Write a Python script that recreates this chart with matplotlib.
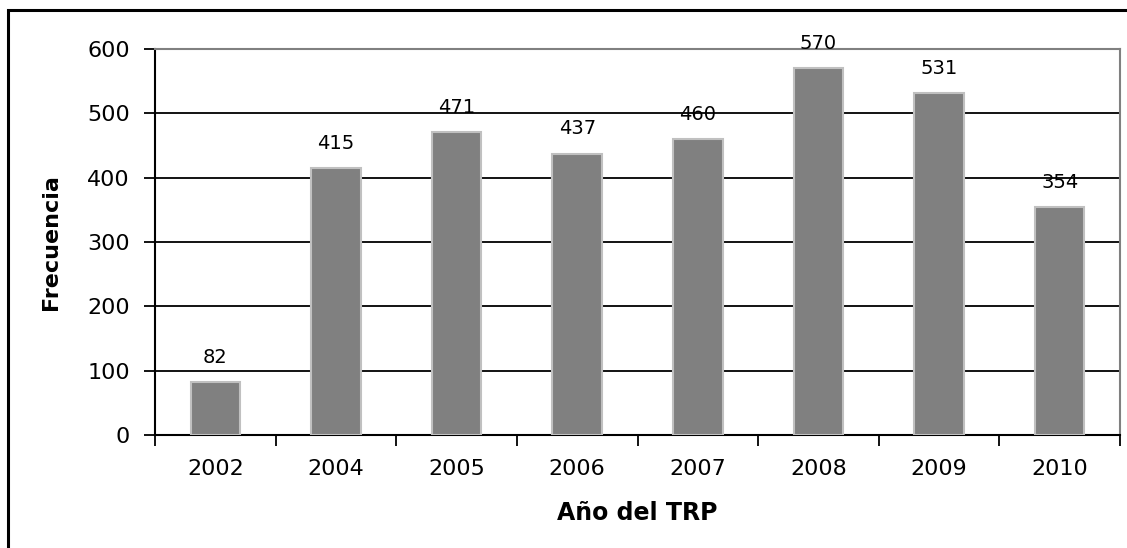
import matplotlib
matplotlib.use("Agg")
from matplotlib import pyplot as plt
from matplotlib.patches import Rectangle

years = ["2002", "2004", "2005", "2006", "2007", "2008", "2009", "2010"]
counts = [82, 415, 471, 437, 460, 570, 531, 354]
yticks = [0, 100, 200, 300, 400, 500, 600]

plt.rcParams['font.family'] = ['DejaVu Sans']

fig = plt.figure(figsize=(11.27, 5.48), dpi=100)
W, H = 1127, 548
ax = fig.add_axes([155 / W, 1 - 435 / H, (1120 - 155) / W, (435 - 49) / H])

x = list(range(len(years)))
ax.bar(x, counts, width=0.41, color="#808080", edgecolor="#c0c0c0",
       linewidth=1.5, zorder=3)
for xi, v in zip(x, counts):
    ax.annotate(str(v), (xi, v), xytext=(0, 14), textcoords="offset points",
                ha="center", va="baseline", fontsize=14, zorder=4)

ax.set_xlim(-0.5, len(years) - 0.5)
ax.set_ylim(0, 600)
ax.set_yticks(yticks)
ax.tick_params(axis="y", labelsize=16, length=8, width=1.3, direction="out", pad=10)
# x ticks sit at category boundaries, labels at centres
ax.set_xticks([i - 0.5 for i in range(len(years) + 1)])
ax.set_xticklabels([])
ax.set_xticks(x, minor=True)
ax.set_xticklabels(years, minor=True)
ax.tick_params(axis="x", which="major", length=8, width=1.3, direction="out")
ax.tick_params(axis="x", which="minor", length=0, labelsize=16, pad=17)

for y in yticks[1:-1]:
    ax.axhline(y, color="black", linewidth=1.3, zorder=1)

ax.spines["left"].set_linewidth(1.5)
ax.spines["bottom"].set_linewidth(1.5)
ax.spines["top"].set_color("#808080")
ax.spines["right"].set_color("#808080")
ax.spines["top"].set_linewidth(1.5)
ax.spines["right"].set_linewidth(1.5)

ax.set_ylabel("Frecuencia", fontsize=16, fontweight="bold", labelpad=19)
ax.set_xlabel("Año del TRP", fontsize=17, fontweight="bold", labelpad=16)

# outer chart border
fig.patches.append(Rectangle((8 / W, -0.1), 1.2, 1 - 10 / H + 0.1,
                             transform=fig.transFigure, fill=False,
                             edgecolor="black", linewidth=2.2))

fig.savefig("out.png", dpi=100)
